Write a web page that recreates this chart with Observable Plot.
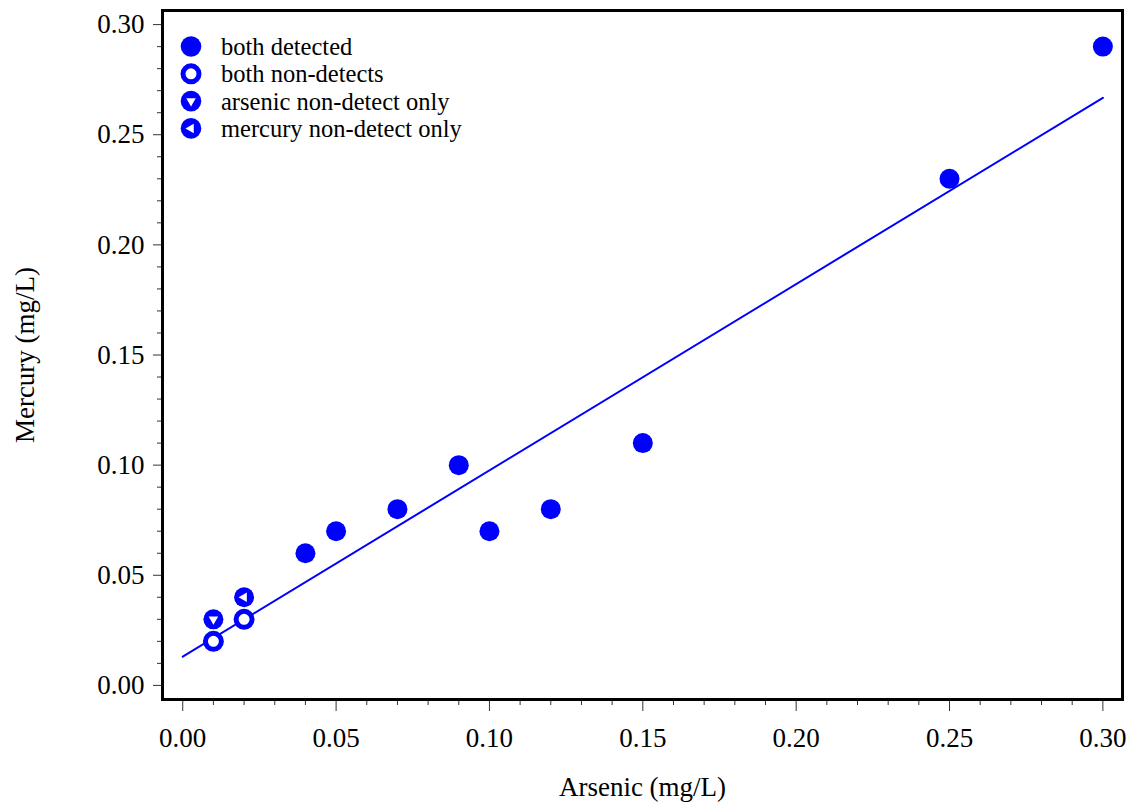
<!DOCTYPE html>
<html>
<head>
<meta charset="utf-8">
<script src="https://cdn.jsdelivr.net/npm/d3@7"></script>
<script src="https://cdn.jsdelivr.net/npm/@observablehq/plot@0.6"></script>
<style>
  body { margin: 0; background: #fff; }
  #wrap { position: relative; width: 1130px; height: 803px; }
  #legend { position: absolute; left: 0; top: 0; }
</style>
</head>
<body>
<div id="wrap"></div>
<script>
// ---- data ----
const arsenicDetected = [0.04, 0.05, 0.07, 0.09, 0.10, 0.12, 0.15, 0.25, 0.30];
const mercuryDetected = [0.06, 0.07, 0.08, 0.10, 0.07, 0.08, 0.11, 0.23, 0.29];
const arsenicBothND   = [0.01, 0.02];
const mercuryBothND   = [0.02, 0.03];
const arsenicAsND     = [0.01];
const mercuryAsND     = [0.03];
const arsenicHgND     = [0.02];
const mercuryHgND     = [0.04];
const legendLabels = ["both detected", "both non-detects", "arsenic non-detect only", "mercury non-detect only"];
const majorTicks = [0.00, 0.05, 0.10, 0.15, 0.20, 0.25, 0.30];
const minorTicks = [0.01,0.02,0.03,0.04,0.06,0.07,0.08,0.09,0.11,0.12,0.13,0.14,0.16,0.17,0.18,0.19,0.21,0.22,0.23,0.24,0.26,0.27,0.28,0.29];
const fitRange = [0.00, 0.30];
const xLabel = "Arsenic (mg/L)";
const yLabel = "Mercury (mg/L)";

// ---- build tables ----
const toRows = (xs, ys) => xs.map((x, i) => ({x, y: ys[i]}));
const detected = toRows(arsenicDetected, mercuryDetected);
const bothND = toRows(arsenicBothND, mercuryBothND);
const asND = toRows(arsenicAsND, mercuryAsND);
const hgND = toRows(arsenicHgND, mercuryHgND);
const all = [...detected, ...bothND, ...asND, ...hgND];

// ordinary least squares fit over all points
const mx = d3.mean(all, d => d.x), my = d3.mean(all, d => d.y);
const slope = d3.sum(all, d => (d.x - mx) * (d.y - my)) / d3.sum(all, d => (d.x - mx) ** 2);
const intercept = my - slope * mx;
const fit = fitRange.map(x => ({x, y: intercept + slope * x}));

const BLUE = "#0000ff";
const FONT = "'Liberation Serif', 'Times New Roman', serif";
const triDown = {draw(ctx, size) { const R = Math.sqrt(size / Math.PI);
  ctx.moveTo(0, R); ctx.lineTo(0.866 * R, -0.5 * R); ctx.lineTo(-0.866 * R, -0.5 * R); ctx.closePath(); }};
const triLeft = {draw(ctx, size) { const R = Math.sqrt(size / Math.PI);
  ctx.moveTo(-R, 0); ctx.lineTo(0.5 * R, -0.866 * R); ctx.lineTo(0.5 * R, 0.866 * R); ctx.closePath(); }};

const chart = Plot.plot({
  width: 1130,
  height: 803,
  marginLeft: 162,
  marginRight: 8,
  marginTop: 10,
  marginBottom: 104,
  style: {fontFamily: FONT, fontSize: "27px", color: "#000", background: "#fff"},
  x: {domain: [-0.0066, 0.3064]},
  y: {domain: [-0.0064, 0.3064]},
  marks: [
    Plot.axisX(minorTicks, {tickSize: 6, tickFormat: () => "", label: null, stroke: "#333"}),
    Plot.axisX(majorTicks, {tickSize: 12, tickPadding: 16, tickFormat: ".2f", label: null, stroke: "#333", fontSize: 27}),
    Plot.axisY(minorTicks, {tickSize: 5, tickFormat: () => "", label: null, stroke: "#333"}),
    Plot.axisY(majorTicks, {tickSize: 9, tickPadding: 9, tickFormat: ".2f", label: null, stroke: "#333", fontSize: 27}),
    Plot.text([xLabel], {text: d => d, frameAnchor: "bottom", dy: 88, fontSize: 27, lineAnchor: "middle", textAnchor: "middle"}),
    Plot.text([yLabel], {text: d => d, frameAnchor: "left", dx: -137, rotate: -90, fontSize: 27, lineAnchor: "middle", textAnchor: "middle"}),
    Plot.line(fit, {x: "x", y: "y", stroke: BLUE, strokeWidth: 2}),
    Plot.dot(detected, {x: "x", y: "y", r: 10, fill: BLUE}),
    Plot.dot(bothND, {x: "x", y: "y", r: 8, fill: "#fff", stroke: BLUE, strokeWidth: 5}),
    Plot.dot(asND, {x: "x", y: "y", r: 10, fill: BLUE}),
    Plot.dot(asND, {x: "x", y: "y", r: 5.5, fill: "#fff", symbol: triDown}),
    Plot.dot(hgND, {x: "x", y: "y", r: 10, fill: BLUE}),
    Plot.dot(hgND, {x: "x", y: "y", r: 5.5, fill: "#fff", symbol: triLeft}),
    Plot.frame({stroke: "#000", strokeWidth: 3})
  ]
});
document.getElementById("wrap").appendChild(chart);

// ---- legend overlay ----
const lg = d3.select("#wrap").append("svg").attr("id", "legend")
  .attr("width", 480).attr("height", 160)
  .style("font-family", FONT);
const items = lg.selectAll("g").data(legendLabels).join("g")
  .attr("transform", (d, i) => `translate(191,${46.5 + i * 27.3})`);
items.append("circle").attr("r", (d, i) => i === 1 ? 8 : 10.3)
  .attr("fill", (d, i) => i === 1 ? "#fff" : BLUE)
  .attr("stroke", (d, i) => i === 1 ? BLUE : "none")
  .attr("stroke-width", 5);
items.filter((d, i) => i === 2).append("path").attr("d", d3.symbol(triDown, Math.PI * 5.5 * 5.5)()).attr("fill", "#fff");
items.filter((d, i) => i === 3).append("path").attr("d", d3.symbol(triLeft, Math.PI * 5.5 * 5.5)()).attr("fill", "#fff");
items.append("text").attr("x", 30).attr("y", 8.5).attr("font-size", 24.5).attr("fill", "#000").text(d => d);
</script>
</body>
</html>
